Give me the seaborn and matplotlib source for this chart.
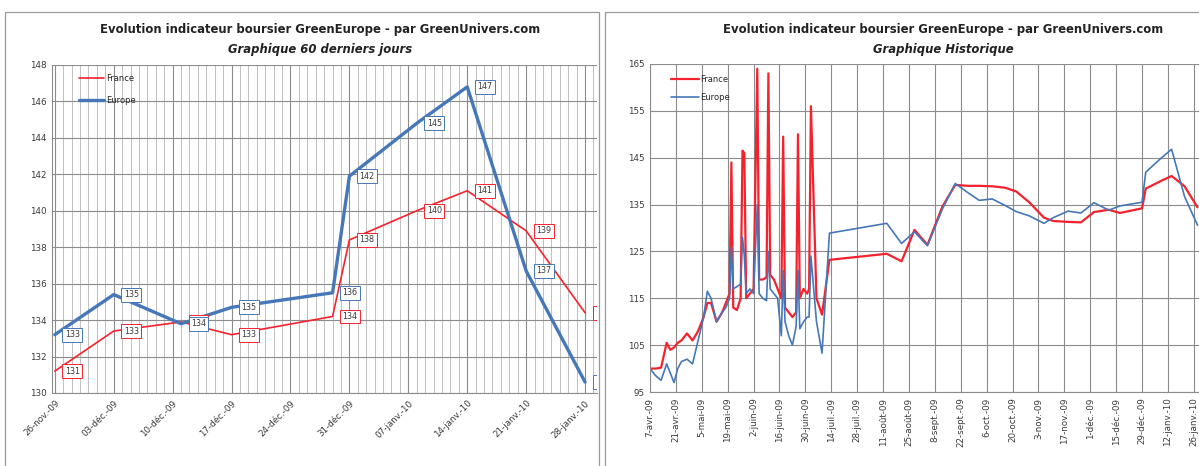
import pandas as pd
import matplotlib
matplotlib.use("Agg")
import matplotlib.pyplot as plt
import matplotlib.dates as mdates
from matplotlib.patches import Rectangle
import seaborn as sns

# Graphique 60 derniers jours
recent_dates = ["2009-11-26", "2009-12-03", "2009-12-11", "2009-12-17", "2009-12-29",
                "2009-12-31", "2010-01-08", "2010-01-14", "2010-01-21", "2010-01-28"]
recent_france = [131.2, 133.4, 133.9, 133.2, 134.2, 138.4, 140.0, 141.1, 138.9, 134.4]
recent_europe = [133.2, 135.4, 133.8, 134.7, 135.5, 141.9, 144.8, 146.8, 136.7, 130.6]
recent_ticks = ["26-nov.-09", "03-déc.-09", "10-déc.-09", "17-déc.-09", "24-déc.-09",
                "31-déc.-09", "07-janv.-10", "14-janv.-10", "21-janv.-10", "28-janv.-10"]

# Graphique historique (jours depuis le 7 avril 2009)
hist_start = "2009-04-07"
hist_days = [0, 3, 6, 9, 11, 13, 15, 17, 20, 23, 26, 29, 31, 33, 36, 39, 41, 43, 44, 45,
             47, 49, 50, 51, 52, 54, 56, 58, 59, 61, 63, 64, 65, 67, 69, 71, 72, 73, 75,
             77, 79, 80, 81, 83, 85, 86, 87, 90, 93, 97, 128, 136, 143, 150, 158, 165,
             172, 178, 185, 192, 198, 205, 213, 218, 226,
             233, 240, 248, 254, 266, 268, 276, 282, 289, 296]
hist_france = [100, 100, 100.2, 105.5, 104, 104.5, 105.5, 106, 107.5, 106, 108, 111, 114,
               114, 110, 112, 114, 116, 144, 113, 112.5, 115, 146.5, 146, 115, 116, 117,
               164, 119, 119, 119.5, 163, 120, 119, 117, 115, 149.5, 113, 112, 111, 112,
               150, 115, 117, 116, 117, 156, 115, 111.5, 123.2, 124.5, 122.9, 129.6, 126.4,
               134.5, 139.2, 139.0, 139.0, 138.9, 138.6, 137.8, 135.5, 132.2, 131.5, 131.3,
               131.2, 133.4, 133.9, 133.2, 134.2, 138.4, 140.0, 141.1, 138.9, 134.4]
hist_europe = [100, 98.5, 97.5, 101, 99, 97, 100, 101.5, 102, 101, 106, 111, 116.5,
               115, 110, 112, 113, 115, 126, 117, 117.5, 118, 128, 124, 116, 117, 116,
               135, 116, 115, 114.5, 125, 117, 116, 115, 107, 121, 110, 107, 105, 109,
               121, 108.5, 110, 111, 111, 124, 110, 103.3, 128.9, 131.0, 126.7, 129.2, 126.2,
               134.0, 139.5, 137.5, 135.9, 136.2, 134.8, 133.5, 132.6, 131.0, 132.2, 133.6,
               133.2, 135.4, 133.8, 134.7, 135.5, 141.9, 144.8, 146.8, 136.7, 130.6]
hist_ticks = ["7-avr.-09", "21-avr.-09", "5-mai-09", "19-mai-09", "2-juin-09", "16-juin-09",
              "30-juin-09", "14-juil.-09", "28-juil.-09", "11-août-09", "25-août-09",
              "8-sept.-09", "22-sept.-09", "6-oct.-09", "20-oct.-09", "3-nov.-09",
              "17-nov.-09", "1-déc.-09", "15-déc.-09", "29-déc.-09", "12-janv.-10",
              "26-janv.-10"]

title_1 = "Evolution indicateur boursier GreenEurope - par GreenUnivers.com"

RED = "#f5222d"
BLUE = "#4677b8"
GRID = "#8c8c8c"
TXT = "#3a3a3a"

sns.set_style("white")
plt.rcParams["font.family"] = ["DejaVu Sans"]

W, H = 1199, 466
fig = plt.figure(figsize=(W / 100, H / 100), dpi=100)


def fx(px):
    return px / W


def fy(py):
    return 1 - py / H


# chart frames
for x0, x1 in [(5, 599), (605, 1210)]:
    fig.patches.append(Rectangle((fx(x0), fy(470)), fx(x1 - x0), (470 - 12) / H,
                                 transform=fig.transFigure, fill=False,
                                 edgecolor="#9a9a9a", linewidth=0.9))

# ---------- left: 60 derniers jours ----------
df_recent = pd.DataFrame({
    "date": pd.to_datetime(recent_dates * 2),
    "value": recent_france + recent_europe,
    "serie": ["France"] * len(recent_dates) + ["Europe"] * len(recent_dates),
})

ax1 = fig.add_axes([fx(52), fy(393), fx(597 - 52), (393 - 65) / H])
sns.lineplot(data=df_recent, x="date", y="value", hue="serie", size="serie",
             palette={"France": RED, "Europe": BLUE},
             sizes={"France": 1.2, "Europe": 2.4}, ax=ax1, legend=False)

d0 = pd.Timestamp("2009-11-26")
ax1.set_xlim(d0 - pd.Timedelta(hours=8), pd.Timestamp("2010-01-28") + pd.Timedelta(hours=34))
ax1.set_ylim(130, 148)
ax1.set_yticks(range(130, 149, 2))
ax1.set_xticks(pd.date_range(d0, periods=len(recent_ticks), freq="7D"))
ax1.set_xticklabels(recent_ticks, rotation=45, ha="right", rotation_mode="anchor")
ax1.xaxis.set_minor_locator(mdates.DayLocator())
ax1.grid(True, which="major", color=GRID, linewidth=0.8)
ax1.grid(True, which="minor", axis="x", color="#b5b5b5", linewidth=0.6)

for vals, col in [(recent_france, RED), (recent_europe, BLUE)]:
    for d, v in zip(pd.to_datetime(recent_dates), vals):
        ax1.annotate(f"{v:.0f}", (d, v), xytext=(10, 0), textcoords="offset pixels",
                     ha="left", va="center", fontsize=5.8, color=TXT, clip_on=True,
                     bbox=dict(boxstyle="square,pad=0.3", fc="white", ec=col, lw=0.7))

ax1.plot([], [], color=RED, lw=1.2, label="France")
ax1.plot([], [], color=BLUE, lw=2.4, label="Europe")
ax1.legend(loc="upper left", bbox_to_anchor=(0.035, 0.995), frameon=False, fontsize=6,
           handlelength=3.1, handletextpad=0.2, labelspacing=1.5)

# ---------- right: historique ----------
start = pd.Timestamp(hist_start)
hist_dates = [start + pd.Timedelta(days=d) for d in hist_days]
df_hist = pd.DataFrame({
    "date": hist_dates * 2,
    "value": hist_france + hist_europe,
    "serie": ["France"] * len(hist_days) + ["Europe"] * len(hist_days),
})

ax2 = fig.add_axes([fx(650), fy(392), fx(W - 650), (392 - 64) / H])
sns.lineplot(data=df_hist, x="date", y="value", hue="serie", size="serie",
             palette={"France": RED, "Europe": BLUE},
             sizes={"France": 1.6, "Europe": 1.2}, ax=ax2, legend=False)
ax2.set_xlim(start, start + pd.Timedelta(days=296.8))
ax2.set_ylim(95, 165)
ax2.set_yticks(range(95, 166, 10))
ax2.set_xticks(pd.date_range(start, periods=len(hist_ticks), freq="14D"))
ax2.set_xticklabels(hist_ticks, rotation=90, ha="center", va="top")
ax2.grid(True, which="major", color=GRID, linewidth=0.8)

ax2.plot([], [], color=RED, lw=1.6, label="France")
ax2.plot([], [], color=BLUE, lw=1.2, label="Europe")
ax2.legend(loc="upper left", bbox_to_anchor=(0.025, 0.99), frameon=False, fontsize=6,
           handlelength=3.3, handletextpad=0.2, labelspacing=1.1)

for ax in (ax1, ax2):
    ax.set_xlabel("")
    ax.set_ylabel("")
    ax.tick_params(axis="both", labelsize=6.3, colors=TXT, length=2, pad=2)
    ax.tick_params(axis="x", which="minor", length=0)
    for side in ("top", "right"):
        ax.spines[side].set_visible(False)
    for side in ("left", "bottom"):
        ax.spines[side].set_color(GRID)
        ax.spines[side].set_linewidth(0.8)

# titles
for cx, sub in [(320, "Graphique 60 derniers jours"), (943, "Graphique Historique")]:
    fig.text(fx(cx), fy(30), title_1, ha="center", va="center", fontsize=8.4,
             fontweight="bold", color="#222222")
    fig.text(fx(cx), fy(49), sub, ha="center", va="center", fontsize=8.4,
             fontweight="bold", style="italic", color="#222222")

fig.savefig("out.png", dpi=100)
